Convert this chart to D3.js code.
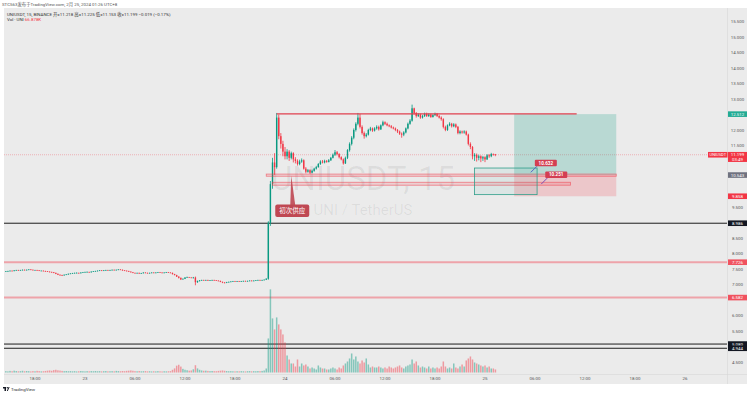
<!DOCTYPE html>
<html>
<head>
<meta charset="utf-8">
<script src="https://d3js.org/d3.v7.min.js"></script>
<style>
  body { margin: 0; background: #fff; }
  svg { display: block; font-family: Roboto, "Noto Sans CJK SC", sans-serif; }
</style>
</head>
<body>
<script>
// UNIUSDT 15m candles, first bar 22 Feb 14:30 (UTC+8, kept as UTC here)
var firstBar = "2024-02-22T14:30";
var firstOpen = 7.42;
var closes = [
  7.43,7.44,7.45,7.44,7.46,7.47,7.46,7.47,7.48,7.47,
  7.48,7.49,7.48,7.47,7.47,7.46,7.45,7.45,7.44,7.43,
  7.42,7.41,7.40,7.38,7.35,7.32,7.31,7.30,7.32,7.33,
  7.35,7.36,7.37,7.38,7.38,7.37,7.39,7.40,7.41,7.41,
  7.40,7.42,7.43,7.44,7.45,7.46,7.45,7.46,7.47,7.46,
  7.47,7.48,7.47,7.48,7.49,7.48,7.46,7.45,7.44,7.42,
  7.40,7.38,7.37,7.38,7.36,7.37,7.39,7.38,7.37,7.38,
  7.39,7.38,7.39,7.40,7.39,7.38,7.39,7.40,7.39,7.38,
  7.34,7.31,7.26,7.22,7.17,7.19,7.23,7.24,7.23,7.22,
  7.23,7.08,7.12,7.14,7.15,7.14,7.15,7.13,7.14,7.15,
  7.14,7.13,7.12,7.09,7.07,7.06,7.08,7.09,7.10,7.11,
  7.10,7.11,7.10,7.11,7.12,7.11,7.12,7.13,7.12,7.13,
  7.14,7.15,7.14,7.15,7.16,7.19,9.00,10.25,10.95,10.80,
  12.40,11.80,11.55,11.30,11.15,11.30,11.10,11.25,11.05,11.00,
  10.90,10.98,11.02,10.75,10.65,10.70,10.62,10.68,10.75,10.80,
  10.90,10.98,10.95,11.00,10.97,11.02,11.10,11.20,11.28,11.22,
  11.12,11.05,10.92,11.10,11.35,11.55,11.75,12.00,12.20,12.40,
  12.10,11.90,11.80,11.85,12.00,12.05,11.98,12.05,12.10,12.02,
  12.15,12.25,12.20,12.15,12.12,12.08,12.05,12.00,11.95,11.88,
  11.85,11.92,12.05,12.20,12.30,12.70,12.55,12.45,12.50,12.40,
  12.45,12.52,12.45,12.50,12.42,12.48,12.52,12.45,12.40,12.35,
  12.10,12.00,12.15,12.20,12.12,12.18,12.10,11.90,11.95,11.92,
  11.95,11.85,11.55,11.45,11.15,11.20,11.10,11.15,11.08,11.12,
  11.05,11.18,11.15,11.22,11.218,11.199
];
var highs = [
  7.44,7.45,7.46,7.46,7.47,7.48,7.48,7.48,7.49,7.49,
  7.49,7.50,7.50,7.49,7.48,7.48,7.47,7.46,7.46,7.45,
  7.44,7.43,7.42,7.41,7.39,7.36,7.33,7.32,7.33,7.34,
  7.36,7.37,7.38,7.39,7.40,7.39,7.40,7.41,7.42,7.43,
  7.42,7.43,7.44,7.45,7.46,7.47,7.47,7.47,7.48,7.48,
  7.48,7.49,7.49,7.49,7.50,7.50,7.49,7.47,7.46,7.45,
  7.43,7.41,7.39,7.39,7.39,7.38,7.40,7.40,7.39,7.39,
  7.40,7.40,7.40,7.41,7.41,7.40,7.40,7.41,7.41,7.40,
  7.39,7.35,7.32,7.27,7.23,7.20,7.24,7.26,7.25,7.24,
  7.25,7.26,7.13,7.15,7.16,7.16,7.16,7.16,7.15,7.16,
  7.16,7.15,7.14,7.13,7.10,7.08,7.09,7.10,7.11,7.12,
  7.12,7.12,7.12,7.12,7.13,7.13,7.13,7.14,7.14,7.14,
  7.15,7.16,7.16,7.16,7.17,7.21,9.05,10.35,11.10,11.25,
  12.55,12.50,11.90,11.65,11.45,11.38,11.35,11.30,11.28,11.12,
  11.05,11.04,11.08,11.05,10.80,10.74,10.73,10.72,10.78,10.84,
  10.93,11.02,11.03,11.04,11.03,11.06,11.13,11.24,11.35,11.32,
  11.25,11.15,11.08,11.14,11.38,11.60,11.80,12.05,12.25,12.55,
  12.52,12.15,11.95,11.90,12.04,12.10,12.08,12.09,12.15,12.14,
  12.18,12.30,12.28,12.24,12.18,12.16,12.11,12.08,12.03,11.98,
  11.92,11.96,12.08,12.24,12.35,12.82,12.72,12.58,12.54,12.53,
  12.49,12.56,12.56,12.54,12.53,12.51,12.56,12.55,12.49,12.44,
  12.38,12.14,12.18,12.25,12.23,12.22,12.21,12.13,11.99,11.98,
  11.99,11.98,11.88,11.60,11.48,11.25,11.24,11.20,11.18,11.16,
  11.15,11.22,11.22,11.26,11.24,11.225
];
var lows = [
  7.41,7.42,7.43,7.43,7.43,7.45,7.45,7.45,7.46,7.46,
  7.46,7.47,7.47,7.46,7.46,7.45,7.44,7.44,7.43,7.42,
  7.41,7.40,7.39,7.37,7.34,7.31,7.29,7.28,7.29,7.31,
  7.32,7.34,7.35,7.36,7.37,7.36,7.36,7.38,7.39,7.40,
  7.39,7.39,7.41,7.42,7.43,7.44,7.44,7.44,7.45,7.45,
  7.45,7.46,7.46,7.46,7.47,7.47,7.45,7.44,7.43,7.41,
  7.39,7.37,7.36,7.36,7.35,7.35,7.36,7.37,7.36,7.36,
  7.37,7.37,7.37,7.38,7.38,7.37,7.37,7.38,7.38,7.37,
  7.33,7.30,7.25,7.20,7.15,7.16,7.18,7.22,7.22,7.21,
  7.20,6.98,7.06,7.10,7.13,7.13,7.13,7.12,7.12,7.13,
  7.13,7.12,7.11,7.08,7.05,7.04,7.05,7.07,7.08,7.09,
  7.09,7.09,7.09,7.09,7.10,7.10,7.10,7.11,7.11,7.11,
  7.12,7.13,7.13,7.13,7.14,7.15,7.16,8.90,10.10,10.55,
  10.75,11.70,11.40,11.15,11.05,11.05,11.00,11.05,10.95,10.92,
  10.85,10.86,10.94,10.72,10.60,10.62,10.58,10.60,10.65,10.72,
  10.78,10.87,10.92,10.92,10.94,10.95,11.00,11.08,11.16,11.18,
  11.08,11.02,10.88,10.90,11.06,11.30,11.50,11.70,11.95,12.15,
  12.05,11.85,11.72,11.76,11.82,11.96,11.94,11.95,12.01,11.98,
  12.00,12.12,12.16,12.12,12.09,12.05,12.02,11.96,11.90,11.84,
  11.75,11.80,11.89,12.02,12.17,12.27,12.50,12.40,12.42,12.36,
  12.37,12.42,12.42,12.42,12.39,12.40,12.45,12.42,12.37,12.30,
  12.05,11.96,11.97,12.12,12.08,12.09,12.06,11.86,11.86,11.88,
  11.88,11.82,11.50,11.38,11.05,11.00,10.98,11.02,10.96,11.00,
  10.96,11.03,11.10,11.12,11.17,11.153
];
// volume in K UNI
var volumes = [
  30,25,35,28,40,32,26,30,38,27, 33,29,24,31,27,36,30,25,28,34,
  40,45,38,52,60,48,42,35,30,33, 28,31,26,30,24,27,33,29,25,30,
  26,31,28,33,27,30,25,29,32,26, 28,30,26,35,31,27,33,29,36,40,
  45,38,30,27,32,26,29,31,25,28, 24,27,25,30,26,23,28,25,27,30,
  60,90,150,170,130,80,60,50,40,45, 70,160,90,60,45,38,40,35,30,33,
  30,28,35,40,45,38,32,28,30,27, 25,28,26,30,27,24,29,31,26,30,
  28,32,30,35,44,88,748,1826,1188,946, 1210,1056,946,836,660,374,286,198,198,132,
  286,132,198,154,176,132,88,110,88,66, 154,110,88,88,66,66,88,110,88,66,
  110,88,154,198,242,308,418,286,352,242, 198,264,220,308,176,110,132,110,110,132,
  110,88,110,88,132,110,88,110,132,154, 110,88,132,154,176,286,198,242,154,110,
  132,110,88,132,88,110,88,110,88,132, 242,132,88,110,88,198,110,88,132,176,
  132,264,308,352,286,220,198,176,154,132, 154,110,132,88,88,67
];

var priceTicks = d3.range(4.5, 15.51, 0.5);
var timeTicks = [
  ["2024-02-22T18:00", "18:00"], ["2024-02-23T00:00", "23"], ["2024-02-23T06:00", "06:00"],
  ["2024-02-23T12:00", "12:00"], ["2024-02-23T18:00", "18:00"], ["2024-02-24T00:00", "24"],
  ["2024-02-24T06:00", "06:00"], ["2024-02-24T12:00", "12:00"], ["2024-02-24T18:00", "18:00"],
  ["2024-02-25T00:00", "25"], ["2024-02-25T06:00", "06:00"], ["2024-02-25T12:00", "12:00"],
  ["2024-02-25T18:00", "18:00"], ["2024-02-26T00:00", "26"]
];

// horizontal levels drawn across the pane
var blackLevels = [8.986, 5.080, 4.944];
var redLevels = [7.726, 6.582];
var lastPrice = 11.199;

// drawings
var resistance = { from: "2024-02-23T23:00", to: "2024-02-25T11:00", price: 12.52 };
var zones = [
  { from: "2024-02-23T21:45", to: "2024-02-25T15:45", hi: 10.575, lo: 10.505 },
  { from: "2024-02-23T22:30", to: "2024-02-25T10:15", hi: 10.31, lo: 10.215 }
];
var tealBox = { from: "2024-02-24T22:45", to: "2024-02-25T06:15", hi: 10.77, lo: 9.91 };
var position = { from: "2024-02-25T03:30", to: "2024-02-25T15:45", target: 12.512, entry: 10.543, stop: 9.858 };
var priceNotes = [
  { t: "2024-02-25T05:30", price: 10.632, label: "10.632", color: "#5566c8" },
  { t: "2024-02-25T06:45", price: 10.251, label: "10.251", color: "#7d4fb5" }
];
var supplyNote = { t: "2024-02-24T00:45", price: 10.53, label: "初次供应" };

var T = function(s) { return new Date(s + ":00Z"); };
var bars = closes.map(function(c, i) {
  return {
    t: new Date(T(firstBar).getTime() + i * 15 * 60000),
    o: i === 0 ? firstOpen : closes[i - 1],
    h: highs[i], l: lows[i], c: c, v: volumes[i]
  };
});

var W = 750, H = 394;
var paneRight = 727;
var svg = d3.select("body").append("svg").attr("width", W).attr("height", H);

var x = d3.scaleUtc().domain([T("2024-02-24T00:00"), T("2024-02-26T00:00")]).range([285, 685]);
var y = d3.scaleLinear().domain([4.5, 15.5]).range([362, 21.7]);
var yv = d3.scaleLinear().domain([0, 1900]).range([372.5, 286]);

var up = "#089981", down = "#f23645";

svg.append("rect").attr("width", W).attr("height", H).attr("fill", "#fff");
svg.append("rect").attr("x", 4).attr("y", 8).attr("width", 743).attr("height", 376).attr("fill", "#ebebeb");

// separators of the price and time scales
svg.append("line").attr("x1", paneRight + 0.5).attr("x2", paneRight + 0.5).attr("y1", 8).attr("y2", 384)
  .attr("stroke", "#d6d6d6").attr("stroke-width", 0.6);
svg.append("line").attr("x1", 4).attr("x2", 747).attr("y1", 374.5).attr("y2", 374.5)
  .attr("stroke", "#d6d6d6").attr("stroke-width", 0.6);

// watermark
svg.append("text").attr("x", 363).attr("y", 190).attr("text-anchor", "middle")
  .attr("font-size", 33).attr("fill", "#000").attr("fill-opacity", 0.065).text("UNIUSDT, 15");
svg.append("text").attr("x", 363).attr("y", 215).attr("text-anchor", "middle")
  .attr("font-size", 15).attr("fill", "#000").attr("fill-opacity", 0.065).text("UNI / TetherUS");

// levels
svg.append("g").selectAll("line").data(redLevels).join("line")
  .attr("x1", 4).attr("x2", paneRight).attr("y1", d => y(d)).attr("y2", d => y(d))
  .attr("stroke", "#f23645").attr("stroke-opacity", 0.4).attr("stroke-width", 2);
svg.append("g").selectAll("line").data(blackLevels).join("line")
  .attr("x1", 4).attr("x2", paneRight).attr("y1", d => y(d)).attr("y2", d => y(d))
  .attr("stroke", "#1c1c1c").attr("stroke-width", 1);
svg.append("line").attr("x1", 4).attr("x2", paneRight).attr("y1", y(lastPrice)).attr("y2", y(lastPrice))
  .attr("stroke", "#f23645").attr("stroke-opacity", 0.4).attr("stroke-width", 0.8).attr("stroke-dasharray", "1,1");

// volume
svg.append("g").selectAll("rect").data(bars).join("rect")
  .attr("x", d => x(d.t) - 0.75).attr("width", 1.5)
  .attr("y", d => yv(d.v)).attr("height", d => yv(0) - yv(d.v))
  .attr("fill", d => d.c >= d.o ? up : down).attr("fill-opacity", 0.45);

// candles
var cg = svg.append("g");
cg.selectAll("line").data(bars).join("line")
  .attr("x1", d => x(d.t)).attr("x2", d => x(d.t))
  .attr("y1", d => y(d.h)).attr("y2", d => y(d.l))
  .attr("stroke", d => d.c >= d.o ? up : down).attr("stroke-width", 0.8);
cg.selectAll("rect").data(bars).join("rect")
  .attr("x", d => x(d.t) - 0.7).attr("width", 1.4)
  .attr("y", d => y(Math.max(d.o, d.c)))
  .attr("height", d => Math.max(0.6, Math.abs(y(d.o) - y(d.c))))
  .attr("fill", d => d.c >= d.o ? up : down);

// long position tool
svg.append("rect").attr("x", x(T(position.from))).attr("width", x(T(position.to)) - x(T(position.from)))
  .attr("y", y(position.target)).attr("height", y(position.entry) - y(position.target))
  .attr("fill", "#089981").attr("fill-opacity", 0.22);
svg.append("rect").attr("x", x(T(position.from))).attr("width", x(T(position.to)) - x(T(position.from)))
  .attr("y", y(position.entry)).attr("height", y(position.stop) - y(position.entry))
  .attr("fill", "#f23645").attr("fill-opacity", 0.2);

// zones and box
svg.append("g").selectAll("rect").data(zones).join("rect")
  .attr("x", d => x(T(d.from))).attr("width", d => x(T(d.to)) - x(T(d.from)))
  .attr("y", d => y(d.hi)).attr("height", d => y(d.lo) - y(d.hi))
  .attr("fill", "#f23645").attr("fill-opacity", 0.15)
  .attr("stroke", "#f23645").attr("stroke-opacity", 0.6).attr("stroke-width", 0.8);
svg.append("rect").attr("x", x(T(tealBox.from))).attr("width", x(T(tealBox.to)) - x(T(tealBox.from)))
  .attr("y", y(tealBox.hi)).attr("height", y(tealBox.lo) - y(tealBox.hi))
  .attr("fill", "#22ab94").attr("fill-opacity", 0.08).attr("stroke", "#2e9e8a").attr("stroke-width", 0.8);

svg.append("line").attr("x1", x(T(resistance.from))).attr("x2", x(T(resistance.to)))
  .attr("y1", y(resistance.price)).attr("y2", y(resistance.price))
  .attr("stroke", "#e0404f").attr("stroke-width", 1.3);

// price notes with pointers
priceNotes.forEach(function(n) {
  var px = x(T(n.t)), py = y(n.price);
  svg.append("line").attr("x1", px).attr("y1", py).attr("x2", px + 6).attr("y2", py - 6)
    .attr("stroke", n.color).attr("stroke-width", 1);
  svg.append("rect").attr("x", px + 4).attr("y", py - 12.5).attr("width", 22).attr("height", 6.5)
    .attr("rx", 1).attr("fill", "#d43f52");
  svg.append("text").attr("x", px + 15).attr("y", py - 7.6).attr("text-anchor", "middle")
    .attr("font-size", 4.6).attr("font-weight", "bold").attr("fill", "#fff").text(n.label);
});

// 初次供应 callout
var sx = x(T(supplyNote.t)), sy = y(supplyNote.price);
svg.append("path").attr("d", "M" + sx + "," + sy + "L" + (sx + 4) + "," + (sy + 30) + "L" + (sx - 1) + "," + (sy + 30) + "Z")
  .attr("fill", "#bf4853").attr("fill-opacity", 0.9);
svg.append("rect").attr("x", sx - 16).attr("y", sy + 29).attr("width", 34).attr("height", 12.5)
  .attr("rx", 2).attr("fill", "#bf4853");
svg.append("text").attr("x", sx + 1).attr("y", sy + 37.8).attr("text-anchor", "middle")
  .attr("font-size", 6.5).attr("fill", "#fff").text(supplyNote.label);

// price scale
var tags = [
  { v: position.target, bg: "#22ab94" }, { v: lastPrice, bg: "#f23645", sub: "03:49" },
  { v: position.entry, bg: "#6f7280" }, { v: position.stop, bg: "#f23645" },
  { v: blackLevels[0], bg: "#131722" }, { v: redLevels[0], bg: "#f0525f" },
  { v: redLevels[1], bg: "#f0525f" }, { v: blackLevels[1], bg: "#131722" }, { v: blackLevels[2], bg: "#131722" }
];
var fmt = d3.format(".3f");
// hide scale ticks covered by a coloured tag
var covered = function(v) {
  return tags.some(function(t) {
    var top = y(t.v) - 2.8, bottom = top + (t.sub ? 10 : 5.6);
    return y(v) > top - 3 && y(v) < bottom + 3;
  });
};
svg.append("g").selectAll("text")
  .data(priceTicks.filter(v => !covered(v)))
  .join("text").attr("x", 737.5).attr("y", d => y(d) + 1.6).attr("text-anchor", "middle")
  .attr("font-size", 4.4).attr("fill", "#555").text(d => fmt(d));

tags.forEach(function(t) {
  var ty = y(t.v);
  var h = t.sub ? 10 : 5.6;
  svg.append("rect").attr("x", 728).attr("y", ty - 2.8).attr("width", 19).attr("height", h).attr("fill", t.bg);
  svg.append("text").attr("x", 737.5).attr("y", ty + 1.6).attr("text-anchor", "middle")
    .attr("font-size", 4.4).attr("fill", "#fff").text(fmt(t.v));
  if (t.sub) {
    svg.append("text").attr("x", 737.5).attr("y", ty + 6).attr("text-anchor", "middle")
      .attr("font-size", 4.4).attr("fill", "#fff").text(t.sub);
  }
});
svg.append("rect").attr("x", 708).attr("y", y(lastPrice) - 2.8).attr("width", 19.5).attr("height", 5.6).attr("fill", "#f23645");
svg.append("text").attr("x", 717.8).attr("y", y(lastPrice) + 1.6).attr("text-anchor", "middle")
  .attr("font-size", 4).attr("fill", "#fff").text("UNIUSDT");

// time scale
svg.append("g").selectAll("text").data(timeTicks).join("text")
  .attr("x", d => x(T(d[0]))).attr("y", 379.8).attr("text-anchor", "middle")
  .attr("font-size", 4.4).attr("fill", "#555").text(d => d[1]);

// header
svg.append("text").attr("x", 2).attr("y", 5.5).attr("font-size", 4.4).attr("fill", "#555")
  .text("STC563发布于TradingView.com, 2月 25, 2024 01:26 UTC+8");
svg.append("text").attr("x", 7).attr("y", 15.5).attr("font-size", 4.4).attr("fill", "#333")
  .text("UNIUSDT, 15, BINANCE  开=11.218  高=11.225  低=11.153  收=11.199  −0.019 (−0.17%)");
var vol = svg.append("text").attr("x", 7).attr("y", 21).attr("font-size", 4.4).attr("fill", "#333");
vol.append("tspan").text("Vol · UNI  ");
vol.append("tspan").attr("fill", "#f23645").text("66.878K");

// footer logo
svg.append("path").attr("d", "M3,387h3v4h-1.5v-2.5h-1.5z M6.8,391l1.8-4h1l-1.8,4z").attr("fill", "#131722");
svg.append("circle").attr("cx", 7.3).attr("cy", 387.8).attr("r", 0.7).attr("fill", "#131722");
svg.append("text").attr("x", 11).attr("y", 390.6).attr("font-size", 4.4).attr("fill", "#333").text("TradingView");
</script>
</body>
</html>
